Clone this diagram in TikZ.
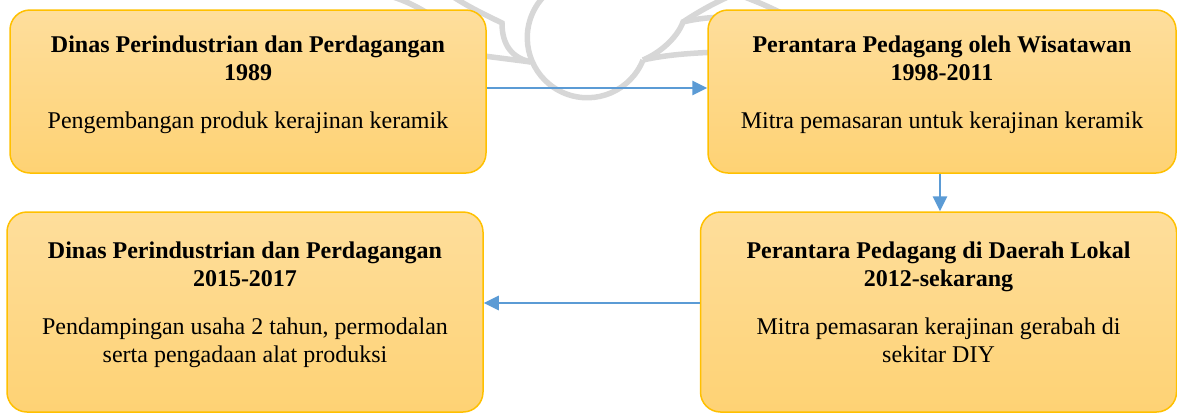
\documentclass[tikz,border=0pt]{standalone}
\usepackage{fontspec}
\setmainfont{Liberation Serif}
\usetikzlibrary{positioning,arrows.meta}

\definecolor{boxtop}{RGB}{254,222,156}
\definecolor{boxbot}{RGB}{254,210,116}
\definecolor{boxline}{RGB}{255,192,0}
\definecolor{arrowblue}{RGB}{91,155,213}
\definecolor{cloudgray}{RGB}{215,215,215}

\newcommand{\tailgap}{\rule[-9.7pt]{0pt}{9.7pt}}

\begin{document}
\begin{tikzpicture}[x=0.5pt, y=-0.5pt,
  box/.style={draw=boxline, line width=0.75pt, rounded corners=10pt, top color=boxtop, bottom color=boxbot, align=center, font=\fontsize{12}{14}\selectfont, inner sep=0pt},
  flow/.style={-{Triangle[length=7.5pt,width=7pt]}, line width=1.4pt, color=arrowblue},
  cloudline/.style={draw=cloudgray, line width=2.75pt}]

  \useasboundingbox (0,0) rectangle (1177,414);

  % Cloud in the back
  \begin{scope}
    \clip (0,0) rectangle (1177,414);
    \draw[cloudline] (643,60) arc[start angle=21.8, end angle=235, radius=60];
    \draw[cloudline] (440,50) .. controls (475,55) and (508,59) .. (531,62);
    \draw[cloudline] (452,-4) .. controls (470,8) and (490,17) .. (502,23) .. controls (502,45) and (512,58) .. (531,62);
    \draw[cloudline] (390,-4) .. controls (410,2) and (428,12) .. (445,26);
    \draw[cloudline] (643,60) .. controls (665,55) and (690,53) .. (720,52);
    \draw[cloudline] (643,60) .. controls (662,52) and (678,36) .. (683,22) .. controls (695,19) and (705,18) .. (720,17);
    \draw[cloudline] (683,22) .. controls (695,14) and (710,5) .. (730,-4);
    \draw[cloudline] (742,-4) .. controls (755,1) and (768,6) .. (785,15);
  \end{scope}

  % First row
  \node[box, minimum width=238pt, minimum height=81.5pt] (dinas1) at (248,91.5)
    {\textbf{Dinas Perindustrian dan Perdagangan}\\ \textbf{1989}\\[10pt] Pengembangan produk kerajinan keramik\tailgap};
  \node[box, minimum width=234pt, minimum height=81.5pt, right of=dinas1, node distance=347pt] (wisatawan)
    {\textbf{Perantara Pedagang oleh Wisatawan}\\ \textbf{1998-2011}\\[10pt] Mitra pemasaran untuk kerajinan keramik\tailgap};

  % Second row
  \node[box, minimum width=238pt, minimum height=100pt, below of=dinas1, node distance=110.25pt, xshift=-1.5pt] (dinas2)
    {\textbf{Dinas Perindustrian dan Perdagangan}\\ \textbf{2015-2017}\\[10pt] Pendampingan usaha 2 tahun, permodalan\\ serta pengadaan alat produksi\tailgap};
  \node[box, minimum width=238pt, minimum height=100pt, right of=dinas2, node distance=346.75pt] (lokal)
    {\textbf{Perantara Pedagang di Daerah Lokal}\\ \textbf{2012-sekarang}\\[10pt] Mitra pemasaran kerajinan gerabah di\\ sekitar DIY\tailgap};

  % Arrows
  \draw[flow] ([yshift=1.75pt]dinas1.east) -- ([yshift=1.75pt]wisatawan.west);
  \draw[flow] ([xshift=-1pt]wisatawan.south) -- ([xshift=-1pt]wisatawan.south |- lokal.north);
  \draw[flow] ([yshift=4.5pt]lokal.west) -- ([yshift=4.5pt]dinas2.east);

\end{tikzpicture}
\end{document}
